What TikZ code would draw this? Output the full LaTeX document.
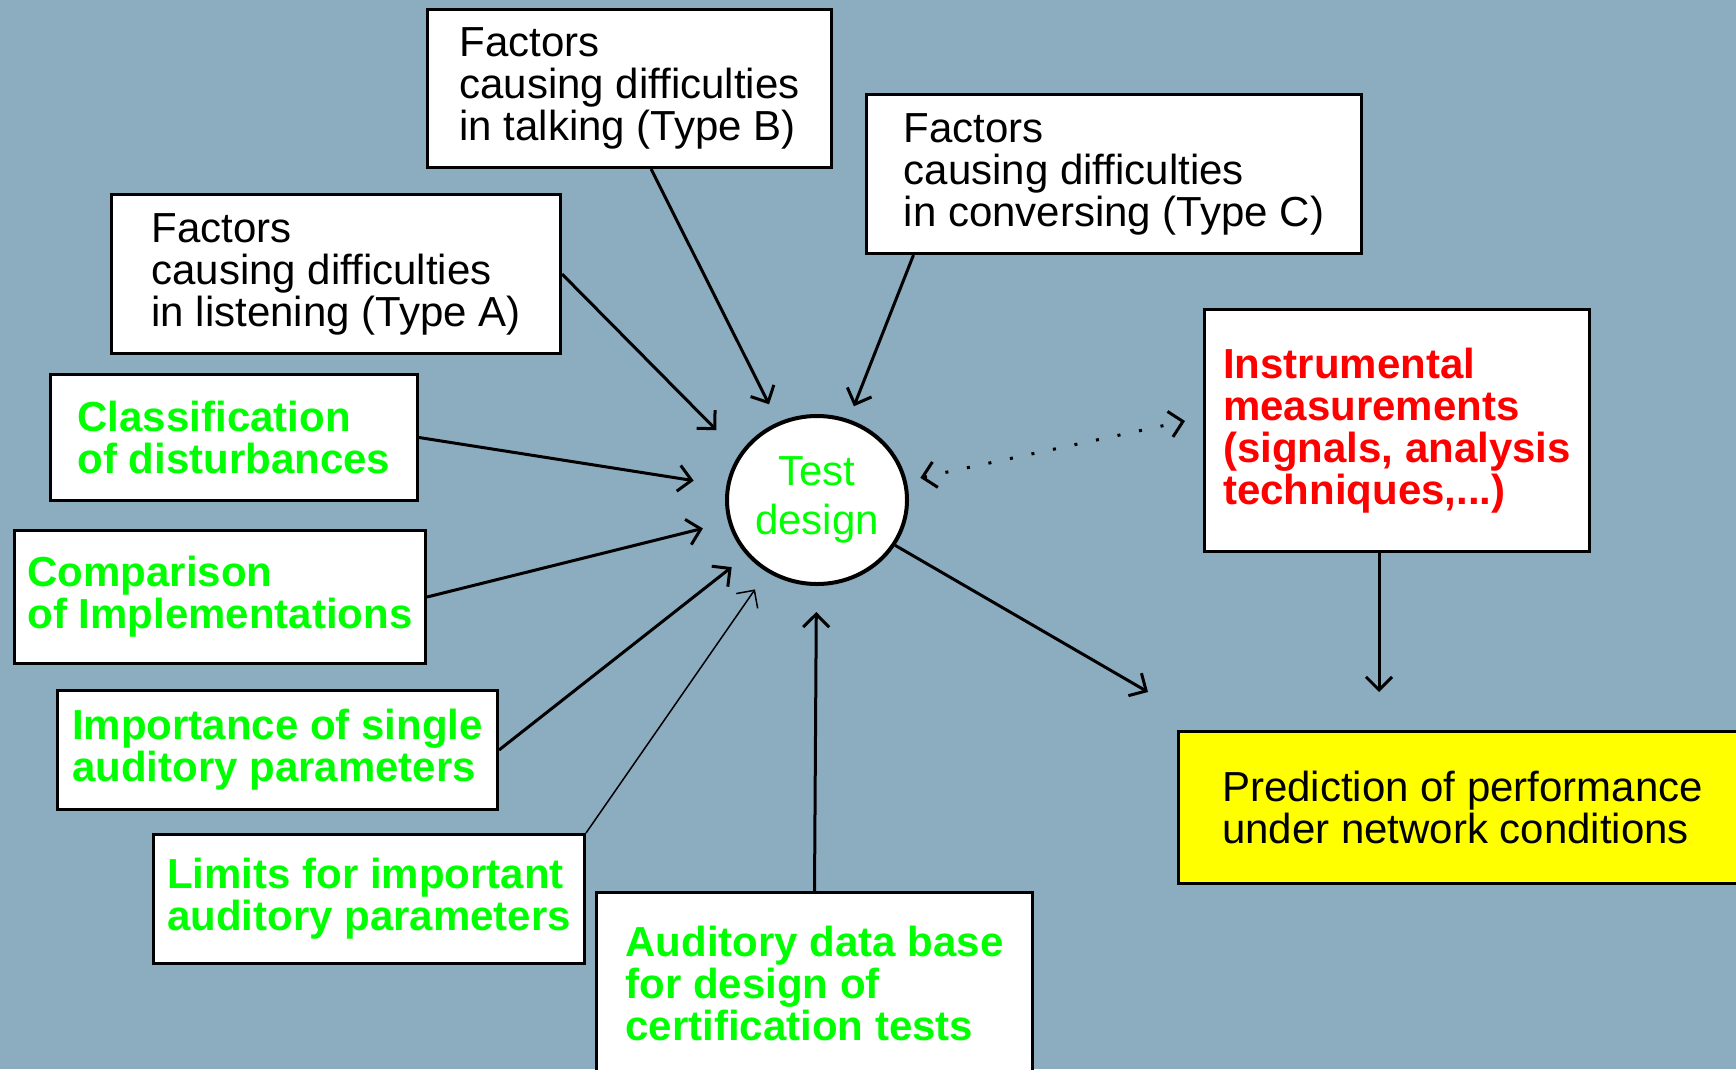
\documentclass[tikz,border=0pt]{standalone}
\usepackage{fontspec}
\setmainfont{Liberation Sans}
\usetikzlibrary{arrows.meta, shapes.geometric}
\definecolor{slideblue}{RGB}{140,172,192}
\definecolor{brightgreen}{RGB}{0,255,0}
\definecolor{brightred}{RGB}{255,0,0}
\definecolor{brightyellow}{RGB}{255,255,0}
\tikzset{
factor/.style={
    rectangle,
    draw=black,
    fill=white,
    line width=3pt,
    anchor=north west,
    inner sep=0pt,
    align=left,
    font=\fontsize{42}{42}\selectfont
},
greenbox/.style={
    factor,
    text=brightgreen,
    font=\fontsize{42}{42}\selectfont\bfseries
}}

\begin{document}
\begin{tikzpicture}[
        x=1pt, y=-1pt,
        >={Straight Barb[length=13pt, width=26pt]},
        feed/.style={->, line width=3pt, shorten >=28pt}
    ]

    % background
    \useasboundingbox (0,0) rectangle (1736,1069);
    \fill[slideblue] (0,0) rectangle (1736,1069);

    % node placement
    \node[factor, minimum width=404pt, minimum height=158pt] (typeB) at (426,8) {Factors\\causing difficulties\\in talking (Type B)};
    \node[factor, minimum width=495pt, minimum height=159pt] (typeC) at (865,93) {Factors\\causing difficulties\\in conversing (Type C)};
    \node[factor, minimum width=449pt, minimum height=159pt] (typeA) at (110,193) {Factors\\causing difficulties\\in listening (Type A)};

    \node[greenbox, minimum width=367pt, minimum height=126pt] (classif) at (49,373) {Classification\\of disturbances};
    \node[greenbox, minimum width=411pt, minimum height=133pt] (compar) at (13,529) {Comparison\\of Implementations};
    \node[greenbox, minimum width=440pt, minimum height=119pt] (import) at (56,689) {Importance of single\\auditory parameters};
    \node[greenbox, minimum width=431pt, minimum height=129pt] (limits) at (152,833) {Limits for important\\auditory parameters};
    \node[greenbox, minimum width=436pt, minimum height=182pt] (database) at (595,891) {Auditory data base\\for design of\\certification tests};

    \node[greenbox, text=brightred, minimum width=385pt, minimum height=242pt] (instr) at (1203,308) {Instrumental\\measurements\\(signals, analysis\\techniques,...)};
    \node[factor, fill=brightyellow, minimum width=568pt, minimum height=152pt] (predict) at (1177,730) {Prediction of performance\\under network conditions};

    \node[ellipse, draw=black, fill=white, line width=4pt, minimum width=180pt, minimum height=168pt,
          inner sep=0pt, align=center, text=brightgreen, font=\fontsize{42}{49}\selectfont] (test) at (817,500) {Test\\design};

    \coordinate (outend) at (1148,692);
    \coordinate (predtop) at (1379,692);
    \coordinate (dotend) at (1185,421);

    % edges
    \draw[feed, shorten >=20pt] (typeB.285) -- (test);
    \draw[feed, shorten >=14pt] (typeC.202) -- (test);
    \draw[feed, shorten >=33pt] (typeA.east) -- (test.149);
    \draw[feed, shorten >=33pt] (classif.east) -- (test);
    \draw[feed, shorten >=26pt] (compar.east) -- (test);
    \draw[feed, shorten >=19pt] (import.east) -- (test);
    \draw[feed, line width=1.5pt, shorten >=21pt] (limits.north east) -- (test);
    \draw[feed, shorten >=26pt] (database.north) -- (test);

    \draw[->, line width=3pt] (test) -- (outend);
    \draw[->, line width=3pt] (instr.south -| predtop) -- (predtop);
    \draw[<->, line width=3pt, dash pattern=on 3pt off 19pt, shorten <=14pt] (test) -- (dotend);

\end{tikzpicture}
\end{document}
